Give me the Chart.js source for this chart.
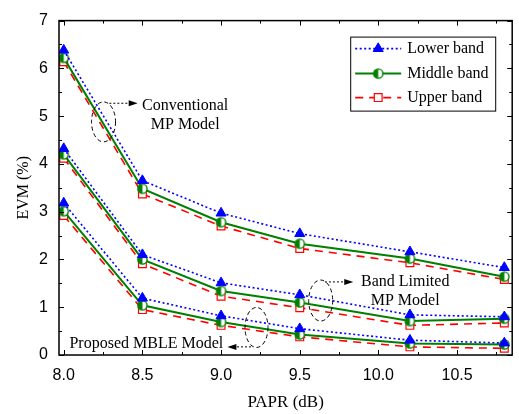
<!DOCTYPE html>
<html>
<head>
<meta charset="utf-8">
<script src="https://cdn.jsdelivr.net/npm/chart.js@4.4.1/dist/chart.umd.min.js"></script>
<style>
  html, body { margin: 0; padding: 0; background: #fff; }
</style>
</head>
<body>
<canvas id="evm-chart" width="519" height="414"></canvas>
<script>
// x positions (PAPR, dB)
const papr = [8.0, 8.5, 9.0, 9.5, 10.2, 10.8];

// EVM (%)
const convLower   = [6.38, 3.65, 2.97, 2.54, 2.16, 1.83];
const convMiddle  = [6.22, 3.48, 2.78, 2.33, 2.02, 1.64];
const convUpper   = [6.14, 3.37, 2.70, 2.23, 1.93, 1.58];

const bandLower   = [4.32, 2.10, 1.51, 1.26, 0.84, 0.80];
const bandMiddle  = [4.20, 2.00, 1.34, 1.10, 0.71, 0.76];
const bandUpper   = [4.12, 1.91, 1.23, 0.99, 0.62, 0.67];

const mbleLower   = [3.18, 1.19, 0.82, 0.55, 0.31, 0.25];
const mbleMiddle  = [3.01, 1.04, 0.69, 0.43, 0.24, 0.22];
const mbleUpper   = [2.92, 0.95, 0.62, 0.38, 0.17, 0.14];

const xTicks = [8.0, 8.5, 9.0, 9.5, 10.0, 10.5];
const yTicks = [0, 1, 2, 3, 4, 5, 6, 7];
const legendLabels = ['Lower band', 'Middle band', 'Upper band'];

// annotation text (data coords of line centres)
const notes = [
    {lines: ['Conventional', 'MP Model'], x: 8.772, y: [5.21, 4.82]},
    {lines: ['Band Limited', 'MP Model'], x: 10.17, y: [1.53, 1.13]},
    {lines: ['Proposed MBLE Model'], x: 8.525, y: [0.226]}
];
// dashed ellipses: centre in data coords, radii in px
const ellipses = [
    {x: 8.253, y: 4.88, rx: 12, ry: 20},
    {x: 9.633, y: 1.14, rx: 12, ry: 20.5},
    {x: 9.225, y: 0.576, rx: 11.5, ry: 20}
];
// dotted arrows: from -> to (data coords)
const arrows = [
    {x0: 8.29, x1: 8.47, y: 5.27},
    {x0: 9.66, x1: 9.84, y: 1.53},
    {x0: 9.19, x1: 9.04, y: 0.17}
];

const FONT_SANS = 'Liberation Sans';
const FONT_SERIF = 'Liberation Serif';

function halfCircle(r, color) {
    const c = document.createElement('canvas');
    const s = Math.ceil(r * 2 + 3);
    c.width = s;
    c.height = s;
    const g = c.getContext('2d');
    const m = s / 2;
    g.beginPath();
    g.arc(m, m, r, 0, Math.PI * 2);
    g.fillStyle = '#fff';
    g.fill();
    g.beginPath();
    g.arc(m, m, r, Math.PI / 2, Math.PI * 1.5);
    g.closePath();
    g.fillStyle = color;
    g.fill();
    g.beginPath();
    g.arc(m, m, r, 0, Math.PI * 2);
    g.lineWidth = 1.4;
    g.strokeStyle = color;
    g.stroke();
    return c;
}

const bandStyles = [
    {
        borderColor: '#0000ff', borderWidth: 1.6, borderDash: [2, 2.5],
        pointStyle: 'triangle', pointRadius: 5.8,
        pointBackgroundColor: '#0000ff', pointBorderColor: '#0000ff', pointBorderWidth: 1
    },
    {
        borderColor: '#008000', borderWidth: 2, borderDash: [],
        pointStyle: halfCircle(4.6, '#008000'), pointRadius: 5,
        pointBackgroundColor: '#008000', pointBorderColor: '#008000', pointBorderWidth: 1
    },
    {
        borderColor: '#ff0000', borderWidth: 1.6, borderDash: [8, 6],
        pointStyle: 'rect', pointRadius: 5.5,
        pointBackgroundColor: '#ffffff', pointBorderColor: '#ff0000', pointBorderWidth: 1.2
    }
];

function makeSet(bandIdx, values) {
    return Object.assign({
        label: legendLabels[bandIdx],
        data: values.map((v, i) => ({x: papr[i], y: v})),
        tension: 0,
        fill: false
    }, bandStyles[bandIdx]);
}

const groups = [
    [convLower, convMiddle, convUpper],
    [bandLower, bandMiddle, bandUpper],
    [mbleLower, mbleMiddle, mbleUpper]
];
const datasets = [];
groups.forEach(g => g.forEach((vals, i) => datasets.push(makeSet(i, vals))));

const framePlugin = {
    id: 'frame',
    afterDatasetsDraw(chart) {
        const ctx = chart.ctx;
        const a = chart.chartArea;
        const xs = chart.scales.x;
        const ys = chart.scales.y;
        ctx.save();
        ctx.strokeStyle = '#000';
        ctx.lineWidth = 1;
        ctx.setLineDash([]);
        ctx.beginPath();
        xTicks.forEach(v => {
            const px = Math.round(xs.getPixelForValue(v)) + 0.5;
            ctx.moveTo(px, a.bottom); ctx.lineTo(px, a.bottom - 5);
            ctx.moveTo(px, a.top); ctx.lineTo(px, a.top + 5);
            const mx = Math.round(xs.getPixelForValue(v + 0.25)) + 0.5;
            if (v + 0.25 < xs.max) {
                ctx.moveTo(mx, a.bottom); ctx.lineTo(mx, a.bottom - 3);
                ctx.moveTo(mx, a.top); ctx.lineTo(mx, a.top + 3);
            }
        });
        yTicks.forEach(v => {
            const py = Math.round(ys.getPixelForValue(v)) + 0.5;
            ctx.moveTo(a.left, py); ctx.lineTo(a.left + 5, py);
            ctx.moveTo(a.right, py); ctx.lineTo(a.right - 5, py);
            if (v + 0.5 < ys.max) {
                const my = Math.round(ys.getPixelForValue(v + 0.5)) + 0.5;
                ctx.moveTo(a.left, my); ctx.lineTo(a.left + 3, my);
                ctx.moveTo(a.right, my); ctx.lineTo(a.right - 3, my);
            }
        });
        ctx.stroke();
        ctx.lineWidth = 1.5;
        ctx.strokeRect(a.left, a.top, a.right - a.left, a.bottom - a.top);
        ctx.restore();
    }
};

const notesPlugin = {
    id: 'notes',
    afterDatasetsDraw(chart) {
        const ctx = chart.ctx;
        const xs = chart.scales.x;
        const ys = chart.scales.y;
        ctx.save();
        ctx.fillStyle = '#000';
        ctx.font = '16px "' + FONT_SERIF + '"';
        ctx.textAlign = 'center';
        ctx.textBaseline = 'middle';
        notes.forEach(n => {
            n.lines.forEach((t, i) => {
                ctx.fillText(t, xs.getPixelForValue(n.x), ys.getPixelForValue(n.y[i]));
            });
        });

        ctx.strokeStyle = '#000';
        ctx.lineWidth = 1;
        ctx.setLineDash([4, 3]);
        ellipses.forEach(e => {
            ctx.beginPath();
            ctx.ellipse(xs.getPixelForValue(e.x), ys.getPixelForValue(e.y), e.rx, e.ry, 0, 0, Math.PI * 2);
            ctx.stroke();
        });

        arrows.forEach(ar => {
            const x0 = xs.getPixelForValue(ar.x0);
            const x1 = xs.getPixelForValue(ar.x1);
            const y = ys.getPixelForValue(ar.y);
            const dir = Math.sign(x1 - x0);
            ctx.setLineDash([2, 2]);
            ctx.beginPath();
            ctx.moveTo(x0, y);
            ctx.lineTo(x1 - dir * 7, y);
            ctx.stroke();
            ctx.setLineDash([]);
            ctx.beginPath();
            ctx.moveTo(x1, y);
            ctx.lineTo(x1 - dir * 9, y - 3);
            ctx.lineTo(x1 - dir * 9, y + 3);
            ctx.closePath();
            ctx.fill();
        });
        ctx.restore();
    }
};

const legendPlugin = {
    id: 'boxLegend',
    afterDraw(chart) {
        const ctx = chart.ctx;
        const a = chart.chartArea;
        const left = a.right - 162;
        const top = a.top + 16;
        const w = 145;
        const h = 74;
        ctx.save();
        ctx.fillStyle = '#fff';
        ctx.fillRect(left, top, w, h);
        ctx.strokeStyle = '#000';
        ctx.lineWidth = 1;
        ctx.setLineDash([]);
        ctx.strokeRect(left + 0.5, top + 0.5, w, h);
        const rows = [12, 37, 61];
        bandStyles.forEach((s, i) => {
            const y = top + rows[i];
            ctx.strokeStyle = s.borderColor;
            ctx.lineWidth = s.borderWidth;
            ctx.setLineDash(s.borderDash);
            ctx.beginPath();
            ctx.moveTo(left + 5, y);
            ctx.lineTo(left + 51, y);
            ctx.stroke();
            ctx.setLineDash([]);
            ctx.fillStyle = s.pointBackgroundColor;
            ctx.strokeStyle = s.pointBorderColor;
            ctx.lineWidth = s.pointBorderWidth;
            Chart.helpers.drawPoint(ctx, {
                pointStyle: s.pointStyle, radius: s.pointRadius, rotation: 0, borderWidth: s.pointBorderWidth
            }, left + 28, y);
            ctx.fillStyle = '#000';
            ctx.font = '16px "' + FONT_SERIF + '"';
            ctx.textAlign = 'left';
            ctx.textBaseline = 'middle';
            ctx.fillText(legendLabels[i], left + 57, y);
        });
        ctx.restore();
    }
};

Chart.defaults.font.family = FONT_SANS;
Chart.defaults.font.size = 16;
Chart.defaults.color = '#000';

new Chart(document.getElementById('evm-chart').getContext('2d'), {
    type: 'line',
    data: {datasets: datasets},
    options: {
        responsive: false,
        animation: false,
        devicePixelRatio: 1,
        layout: {padding: {top: 15, right: 5, left: 0, bottom: 0}},
        plugins: {
            legend: {display: false},
            tooltip: {enabled: false}
        },
        scales: {
            x: {
                type: 'linear',
                min: 7.97,
                max: 10.85,
                grid: {display: false, drawTicks: false},
                border: {display: false},
                afterBuildTicks: (scale) => { scale.ticks = xTicks.map(v => ({value: v})); },
                afterFit: (scale) => { scale.height = 59; },
                ticks: {
                    padding: 11,
                    color: '#000',
                    font: {family: FONT_SANS, size: 16},
                    callback: (v) => Number(v).toFixed(1)
                },
                title: {
                    display: true,
                    text: 'PAPR (dB)',
                    color: '#000',
                    font: {family: FONT_SERIF, size: 17},
                    padding: {top: 0, bottom: 1}
                }
            },
            y: {
                type: 'linear',
                min: 0,
                max: 7,
                grid: {display: false, drawTicks: false},
                border: {display: false},
                afterBuildTicks: (scale) => { scale.ticks = yTicks.map(v => ({value: v})); },
                afterFit: (scale) => { scale.width = 59; },
                ticks: {
                    padding: 11,
                    color: '#000',
                    font: {family: FONT_SANS, size: 16},
                    callback: (v) => String(v)
                },
                title: {
                    display: true,
                    text: 'EVM (%)',
                    color: '#000',
                    font: {family: FONT_SERIF, size: 16},
                    padding: {top: 14, bottom: 0}
                }
            }
        }
    },
    plugins: [framePlugin, notesPlugin, legendPlugin]
});
</script>
</body>
</html>
